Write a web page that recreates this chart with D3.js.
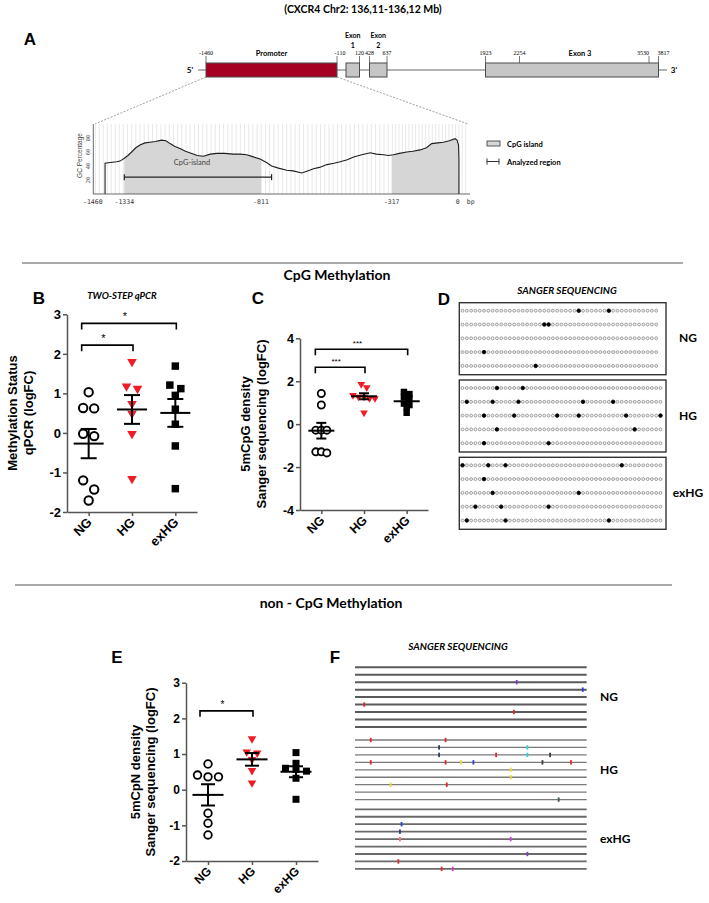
<!DOCTYPE html>
<html><head><meta charset="utf-8">
<script src="https://cdn.jsdelivr.net/npm/d3@7"></script>
<style>body{margin:0;background:#fff}svg{display:block}</style>
</head><body><svg id="c" width="709" height="903"></svg>
<script>
// ================= DATA =================
const groups = ["NG", "HG", "exHG"];

// Panel A: gene map
const geneTitle = "(CXCR4 Chr2: 136,11-136,12 Mb)";
const genePositions = [-1460, -110, 120, 428, 637, 1923, 2254, 3530, 3817];
const geneFeatures = [
  {name: "Promoter", start: -1460, end: -110, type: "promoter"},
  {name: "Exon 1", start: -20, end: 120, type: "exon"},
  {name: "Exon 2", start: 428, end: 637, type: "exon"},
  {name: "Exon 3", start: 1923, end: 3817, type: "exon"}
];
// Panel A: GC percentage profile of the promoter
const gcBp  = [-1411,-1411,-1390,-1365,-1351,-1334,-1320,-1306,-1290,-1274,-1255,-1236,-1215,-1191,-1175,-1159,-1140,-1121,-1100,-1076,-1055,-1031,-1005,-980,-950,-917,-890,-866,-840,-815,-790,-771,-745,-714,-690,-657,-635,-613,-590,-562,-535,-512,-485,-461,-430,-398,-375,-348,-330,-309,-280,-245,-215,-181,-150,-125,-95,-69,-40,-13,-3,4,6,6];
const gcPct = [0,44,45,46,47,51,55,60,66,70,73,74,75,77,76,72,68,65,61,58,55,54,57,58,58,57,57,56,53,50,45,40,37,34,33,30,33,36,38,42,44,46,49,53,56,59,57,56,55,56,58,60,61,63,66,72,73,74,76,79,77,70,50,0];
const gcTicks = [-1460, -1334, -811, -317, 0];
const gcYTicks = [20, 40, 60, 80];
const cpgIslands = [[-1334, -811], [-317, 6]];
const analyzedRegion = [-1334, -771];

// Panel B: two-step qPCR (logFC)
const bNG   = [1.03, 0.63, 0.62, -0.02, -0.08, -1.20, -1.43, -1.71];
const bHG   = [1.80, 1.18, 1.12, 0.74, 0.49, -0.02, -1.16];
const bExHG = [1.69, 1.21, 1.12, 0.95, 0.60, 0.22, -0.33, -1.41];
const bTicks = [-2, -1, 0, 1, 2, 3];

// Panel C: 5mCpG density (logFC)
const cNG   = [1.43, 0.89, -0.28, -0.28, -0.28, -1.29, -1.34, -1.29];
const cHG   = [1.86, 1.71, 1.35, 1.27, 1.27, 1.20, 1.20, 0.53];
const cExHG = [1.50, 1.40, 1.27, 1.20, 0.96, 0.89, 0.78, 0.53];
const cTicks = [-4, -2, 0, 2, 4];

// Panel E: 5mCpN density (logFC)
const eNG   = [0.72, 0.41, 0.36, 0.36, -0.66, -0.94, -1.27];
const eHG   = [1.43, 1.06, 1.03, 0.85, 0.54, 0.19];
const eExHG = [1.04, 0.74, 0.60, 0.57, 0.52, 0.32, -0.27];
const eTicks = [-2, -1, 0, 1, 2, 3];

// Panel D: CpG sites per clone (indices of methylated CpGs)
const dNG   = [[27, 34], [19, 20], [], [5], [17]];
const dHG   = [[8, 14], [1, 7, 13, 28, 35], [5, 12, 22, 27, 38, 46], [8, 40], [5, 20]];
const dExHG = [[0, 6, 10, 37], [5], [7, 27], [3, 9, 20], [1, 10, 34]];
const dSites = {NG: 46, HG: 47, exHG: 47};

// Panel F: non-CpG methylated sites per clone (row, relative position 0-100, base colour)
const fNG   = [{row: 2, pos: 69.8, c: "purple"}, {row: 3, pos: 98.3, c: "blue"}, {row: 5, pos: 4.0, c: "red"}, {row: 6, pos: 68.6, c: "red"}];
const fHG   = [{row: 0, pos: 6.8, c: "red"}, {row: 0, pos: 39.1, c: "red"},
               {row: 1, pos: 36.3, c: "navy"}, {row: 1, pos: 74.4, c: "cyan"},
               {row: 2, pos: 36.3, c: "navy"}, {row: 2, pos: 60.9, c: "red"}, {row: 2, pos: 74.4, c: "cyan"}, {row: 2, pos: 84.2, c: "dark"},
               {row: 3, pos: 6.8, c: "red"}, {row: 3, pos: 39.1, c: "red"}, {row: 3, pos: 45.8, c: "yellow"}, {row: 3, pos: 51.1, c: "blue"}, {row: 3, pos: 80.9, c: "dark"}, {row: 3, pos: 93.2, c: "red"},
               {row: 4, pos: 67.2, c: "yellow"}, {row: 5, pos: 67.2, c: "yellow"},
               {row: 6, pos: 15.4, c: "yellow"}, {row: 6, pos: 39.6, c: "red"},
               {row: 8, pos: 87.9, c: "green"}];
const fExHG = [{row: 2, pos: 20.1, c: "blue"}, {row: 3, pos: 19.4, c: "navy"}, {row: 4, pos: 19.4, c: "salmon"}, {row: 4, pos: 67.2, c: "magenta"},
               {row: 6, pos: 74.4, c: "purple"}, {row: 7, pos: 18.7, c: "red"}, {row: 8, pos: 37.4, c: "red"}, {row: 8, pos: 42.2, c: "magenta"}];
const fClones = 9;

// ================= STYLE =================
const SANS = "'Liberation Sans', Arial, sans-serif";
const CAL = "Lato, 'Open Sans', sans-serif";
const MONO = "'DejaVu Sans Mono', 'Liberation Mono', monospace";
const RED = "#ee1c25";
const baseColors = {red: "#e2252b", blue: "#2b3fd6", purple: "#7b3fc4", navy: "#283c6e", cyan: "#2cd3d3",
  yellow: "#e6dc3c", dark: "#3c3c3c", magenta: "#d33fd3", salmon: "#f07a6a", green: "#3c5a46"};

const svg = d3.select("#c");
svg.append("rect").attr("width", 709).attr("height", 903).attr("fill", "#fff");

function txt(g, x, y, s, o = {}) {
  return g.append("text").attr("x", x).attr("y", y).text(s)
    .attr("text-anchor", o.anchor || "start")
    .style("font-family", o.family || SANS).style("font-size", (o.size || 12) + "px")
    .style("font-weight", o.weight || "normal").style("font-style", o.style || "normal")
    .attr("fill", o.fill || "#000");
}

// ================= PANEL A =================
txt(svg, 363, 13, geneTitle, {anchor: "middle", family: CAL, size: 10.5, weight: "bold"});
txt(svg, 30, 45, "A", {anchor: "middle", size: 17, weight: "bold"});

const gx = d3.scaleLinear()
  .domain([-1560, -1460, -110, -20, 120, 428, 637, 1923, 2254, 3530, 3817, 3917])
  .range([198, 206, 337, 346, 359.5, 369.5, 387, 485.5, 519.5, 649, 658.5, 667]);
const geneY = 70, boxH = 14;
const gA = svg.append("g");
gA.append("line").attr("x1", gx(-1560)).attr("x2", gx(3917)).attr("y1", geneY).attr("y2", geneY)
  .attr("stroke", "#9a9a9a").attr("stroke-width", 1.6);
txt(gA, gx(-1560) - 8, geneY + 3, "5'", {family: CAL, size: 8, weight: "bold", anchor: "middle"});
txt(gA, gx(3917) + 7, geneY + 3, "3'", {family: CAL, size: 8, weight: "bold", anchor: "middle"});
gA.selectAll("line.tk").data(genePositions).join("line").attr("class", "tk")
  .attr("x1", d => gx(d)).attr("x2", d => gx(d)).attr("y1", geneY - boxH / 2 - 7).attr("y2", geneY - boxH / 2)
  .attr("stroke", "#555").attr("stroke-width", 0.8);
const numShift = {"-110": 3, "3530": -6, "3817": 5};
gA.selectAll("text.num").data(genePositions).join("text").attr("class", "num")
  .attr("x", d => gx(d) + (numShift[d] || 0)).attr("y", geneY - boxH / 2 - 8).attr("text-anchor", "middle")
  .style("font-family", "'Liberation Serif', serif").style("font-size", "6px").text(d => d);
gA.selectAll("rect.feat").data(geneFeatures).join("rect").attr("class", "feat")
  .attr("x", d => gx(d.start)).attr("width", d => gx(d.end) - gx(d.start))
  .attr("y", geneY - boxH / 2).attr("height", boxH)
  .attr("fill", d => d.type === "promoter" ? "#a50022" : "#c6c6c6").attr("stroke", "#4a4a4a").attr("stroke-width", 1);
geneFeatures.forEach(f => {
  const cx = (gx(f.start) + gx(f.end)) / 2;
  if (f.name === "Promoter" || f.name === "Exon 3") {
    txt(gA, cx + (f.name === "Exon 3" ? 8 : 0), geneY - boxH / 2 - 7, f.name, {anchor: "middle", family: CAL, size: 7.5, weight: "bold"});
  } else {
    const [a, b] = f.name.split(" ");
    txt(gA, cx, 38, a, {anchor: "middle", family: CAL, size: 7, weight: "bold"});
    txt(gA, cx, 48, b, {anchor: "middle", family: CAL, size: 7, weight: "bold"});
  }
});

// GC profile
const gcx = d3.scaleLinear().domain(gcTicks).range([92.8, 124.3, 261, 391.7, 457.7]);
const gcy = d3.scaleLinear().domain([0, 100]).range([194, 124]);
const gG = svg.append("g");
gG.append("line").attr("x1", gx(-1460)).attr("y1", geneY + boxH / 2).attr("x2", 95).attr("y2", gcy(100))
  .attr("stroke", "#888").attr("stroke-dasharray", "2,1.5").attr("stroke-width", 0.8);
gG.append("line").attr("x1", gx(-110)).attr("y1", geneY + boxH / 2).attr("x2", 468).attr("y2", gcy(100))
  .attr("stroke", "#888").attr("stroke-dasharray", "2,1.5").attr("stroke-width", 0.8);
const gridBp = d3.range(-1450, 50, 16);
gG.selectAll("line.grid").data(gridBp).join("line").attr("class", "grid")
  .attr("x1", d => gcx(d)).attr("x2", d => gcx(d)).attr("y1", gcy(100)).attr("y2", gcy(0))
  .attr("stroke", "#dedede").attr("stroke-width", 0.7);
const gcPts = gcBp.map((b, i) => [b, gcPct[i]]);
const defs = svg.append("defs");
cpgIslands.forEach((r, i) => {
  defs.append("clipPath").attr("id", "isl" + i).append("rect")
    .attr("x", gcx(r[0])).attr("width", gcx(r[1]) - gcx(r[0])).attr("y", gcy(100)).attr("height", gcy(0) - gcy(100));
  gG.append("path").datum(gcPts).attr("clip-path", `url(#isl${i})`)
    .attr("d", d3.area().x(d => gcx(d[0])).y0(gcy(0)).y1(d => gcy(d[1])))
    .attr("fill", "#d6d6d6");
});
gG.append("path").datum(gcPts).attr("d", d3.line().x(d => gcx(d[0])).y(d => gcy(d[1])))
  .attr("fill", "none").attr("stroke", "#1e1e1e").attr("stroke-width", 1.1);
gG.append("line").attr("x1", 93.3).attr("x2", 93.3).attr("y1", gcy(100)).attr("y2", gcy(0)).attr("stroke", "#444").attr("stroke-width", 0.8);
gG.append("line").attr("x1", 93.3).attr("x2", 470).attr("y1", gcy(0)).attr("y2", gcy(0)).attr("stroke", "#444").attr("stroke-width", 0.8);
gG.selectAll("text.gyt").data(gcYTicks).join("text").attr("class", "gyt")
  .attr("transform", d => `translate(90,${gcy(d)}) rotate(-90)`).attr("text-anchor", "middle")
  .style("font-family", MONO).style("font-size", "5.5px").attr("fill", "#444").text(d => d);
gG.append("text").attr("transform", `translate(82,${gcy(55)}) rotate(-90)`).attr("text-anchor", "middle")
  .style("font-family", SANS).style("font-size", "6.5px").attr("fill", "#444").text("GC Percentage");
gG.selectAll("text.gxt").data(gcTicks).join("text").attr("class", "gxt")
  .attr("x", d => gcx(d)).attr("y", gcy(0) + 10).attr("text-anchor", "middle")
  .style("font-family", MONO).style("font-size", "6.5px").attr("fill", "#333").text(d => d);
txt(gG, gcx(0) + 13, gcy(0) + 10, "bp", {family: MONO, size: 6.5, fill: "#333", anchor: "middle"});
const arY = gcy(24);
gG.append("line").attr("x1", gcx(analyzedRegion[0])).attr("x2", gcx(analyzedRegion[1])).attr("y1", arY).attr("y2", arY).attr("stroke", "#222").attr("stroke-width", 1.2);
analyzedRegion.forEach(b => gG.append("line").attr("x1", gcx(b)).attr("x2", gcx(b)).attr("y1", arY - 3).attr("y2", arY + 3).attr("stroke", "#222").attr("stroke-width", 1.2));
txt(gG, (gcx(analyzedRegion[0]) + gcx(analyzedRegion[1])) / 2 - 6, arY - 12, "CpG-island", {anchor: "middle", family: CAL, size: 7.5, fill: "#444"});
gG.append("rect").attr("x", 487).attr("y", 141).attr("width", 13).attr("height", 5).attr("fill", "#d6d6d6").attr("stroke", "#333").attr("stroke-width", 0.8);
txt(gG, 507, 146.5, "CpG island", {family: CAL, size: 7.5, weight: "bold"});
gG.append("line").attr("x1", 487).attr("x2", 499).attr("y1", 161.5).attr("y2", 161.5).attr("stroke", "#333");
[487, 499].forEach(x => gG.append("line").attr("x1", x).attr("x2", x).attr("y1", 158.5).attr("y2", 164.5).attr("stroke", "#333"));
txt(gG, 507, 164.5, "Analyzed region", {family: CAL, size: 7.5, weight: "bold"});

// ================= SECTION HEADERS =================
svg.append("line").attr("x1", 22).attr("x2", 683).attr("y1", 263).attr("y2", 263).attr("stroke", "#555").attr("stroke-width", 1);
txt(svg, 337, 280, "CpG Methylation", {anchor: "middle", family: CAL, size: 14, weight: "bold"});
svg.append("line").attr("x1", 15).attr("x2", 672).attr("y1", 585).attr("y2", 585).attr("stroke", "#555").attr("stroke-width", 1);
txt(svg, 331, 608, "non - CpG Methylation", {anchor: "middle", family: CAL, size: 14, weight: "bold"});

// ================= DOT PLOTS =================
function swarm(vals, y, cx, thr, step) {
  const order = vals.map((v, i) => ({v, i, py: y(v)})).sort((a, b) => a.py - b.py);
  const bins = [];
  order.forEach(p => {
    const last = bins[bins.length - 1];
    if (last && p.py - last[0].py <= thr) last.push(p); else bins.push([p]);
  });
  const out = [];
  bins.forEach(b => b.forEach((p, j) => out.push({v: p.v, x: cx + (j - (b.length - 1) / 2) * step, y: p.py})));
  return out;
}

function dotPanel(o) {
  const g = svg.append("g");
  const y = d3.scaleLinear().domain(d3.extent(o.ticks)).range([o.bottom, o.top]);
  const x = d3.scalePoint().domain(groups).range([o.left, o.right]).padding(0.5);
  const ya = d3.axisLeft(y).tickValues(o.ticks).tickSize(4).tickSizeOuter(0).tickPadding(2).tickFormat(d => String(d));
  const yg = g.append("g").attr("transform", `translate(${o.left},0)`).call(ya);
  const xa = d3.axisBottom(x).tickSize(4).tickSizeOuter(0).tickFormat("");
  const xg = g.append("g").attr("transform", `translate(0,${o.bottom})`).call(xa);
  [yg, xg].forEach(a => {
    a.select(".domain").attr("stroke", "#555").attr("stroke-width", 1.5);
    a.selectAll(".tick line").attr("stroke", "#555").attr("stroke-width", 1.5);
  });
  yg.selectAll(".tick text").style("font-family", SANS).style("font-size", o.fs + "px").style("font-weight", "bold").attr("fill", "#000");
  groups.forEach(gr => {
    g.append("text").attr("transform", `translate(${x(gr) + 4},${o.bottom + 11}) rotate(-45)`)
      .attr("text-anchor", "end").style("font-family", SANS).style("font-size", o.fs + "px").style("font-weight", "bold").text(gr);
  });
  o.ylab.forEach((s, i) => {
    g.append("text").attr("transform", `translate(${o.ylabX[i]},${o.ylabY}) rotate(-90)`).attr("text-anchor", "middle")
      .attr("dominant-baseline", "central").style("font-family", SANS).style("font-size", o.lfs + "px").style("font-weight", "bold").text(s);
  });
  const series = [o.ng, o.hg, o.ex];
  const tri = d3.symbol().type(d3.symbolTriangle).size(o.triSize);
  const sq = d3.symbol().type(d3.symbolSquare).size(o.sqSize);
  series.forEach((vals, gi) => {
    const pts = swarm(vals, y, x(groups[gi]), o.thr, o.step);
    if (gi === 0) {
      g.selectAll(null).data(pts).join("circle").attr("cx", d => d.x).attr("cy", d => d.y).attr("r", o.r)
        .attr("fill", "#fff").attr("stroke", "#000").attr("stroke-width", o.sw);
    } else if (gi === 1) {
      g.selectAll(null).data(pts).join("path").attr("d", tri).attr("transform", d => `translate(${d.x},${d.y}) rotate(180)`).attr("fill", RED);
    } else {
      g.selectAll(null).data(pts).join("path").attr("d", sq).attr("transform", d => `translate(${d.x},${d.y})`).attr("fill", "#000");
    }
  });
  series.forEach((vals, gi) => {
    const m = d3.mean(vals), sem = d3.deviation(vals) / Math.sqrt(vals.length), cx = x(groups[gi]);
    const eb = g.append("g").attr("stroke", "#000").attr("stroke-width", 2);
    eb.append("line").attr("x1", cx - o.meanW / 2).attr("x2", cx + o.meanW / 2).attr("y1", y(m)).attr("y2", y(m));
    eb.append("line").attr("x1", cx).attr("x2", cx).attr("y1", y(m + sem)).attr("y2", y(m - sem));
    [m + sem, m - sem].forEach(v => eb.append("line").attr("x1", cx - o.capW / 2).attr("x2", cx + o.capW / 2).attr("y1", y(v)).attr("y2", y(v)));
  });
  o.brackets.forEach(b => {
    const x1 = x(b.from) - o.brOff, x2 = x(b.to) + 1, by = y(b.at);
    g.append("path").attr("d", `M${x1},${by + 6}V${by}H${x2}V${by + 6}`).attr("fill", "none").attr("stroke", "#000").attr("stroke-width", 1.6);
    txt(g, (x1 + x2) / 2 - 4, by - 3, b.label, {anchor: "middle", size: o.starFs});
  });
}

dotPanel({left: 67, right: 197, top: 314.3, bottom: 512, ticks: bTicks, fs: 13, lfs: 13,
  ylab: ["Methylation Status", "qPCR (logFC)"], ylabX: [12, 28], ylabY: 413,
  ng: bNG, hg: bHG, ex: bExHG, r: 4.2, sw: 2, triSize: 40, sqSize: 56, thr: 9.5, step: 11,
  meanW: 30, capW: 16, brOff: 7, starFs: 11,
  brackets: [{from: "NG", to: "exHG", at: 2.77, label: "*"}, {from: "NG", to: "HG", at: 2.22, label: "*"}]});
txt(svg, 39, 304, "B", {anchor: "middle", size: 17, weight: "bold"});
txt(svg, 122, 299, "TWO-STEP qPCR", {anchor: "middle", family: CAL, size: 9.5, weight: "bold", style: "italic"});

dotPanel({left: 300, right: 428, top: 338.3, bottom: 510, ticks: cTicks, fs: 12.5, lfs: 13,
  ylab: ["5mCpG density", "Sanger sequencing (logFC)"], ylabX: [245, 261], ylabY: 424,
  ng: cNG, hg: cHG, ex: cExHG, r: 3.6, sw: 1.8, triSize: 26, sqSize: 42, thr: 3.5, step: 5.5,
  meanW: 26, capW: 10, brOff: 6, starFs: 8,
  brackets: [{from: "NG", to: "exHG", at: 3.49, label: "***"}, {from: "NG", to: "HG", at: 2.65, label: "***"}]});
txt(svg, 258, 304, "C", {anchor: "middle", size: 17, weight: "bold"});

dotPanel({left: 186, right: 318, top: 682.7, bottom: 861, ticks: eTicks, fs: 12, lfs: 13,
  ylab: ["5mCpN density", "Sanger sequencing (logFC)"], ylabX: [135, 150], ylabY: 772,
  ng: eNG, hg: eHG, ex: eExHG, r: 3.8, sw: 1.8, triSize: 32, sqSize: 49, thr: 4.5, step: 10.5,
  meanW: 31, capW: 14, brOff: 8, starFs: 10,
  brackets: [{from: "NG", to: "HG", at: 2.21, label: "*"}]});
txt(svg, 117, 663, "E", {anchor: "middle", size: 17, weight: "bold"});

// ================= PANEL D =================
txt(svg, 444, 305, "D", {anchor: "middle", size: 17, weight: "bold"});
txt(svg, 567, 294, "SANGER SEQUENCING", {anchor: "middle", family: CAL, size: 10, weight: "bold", style: "italic"});
const dData = {NG: dNG, HG: dHG, exHG: dExHG};
const dTop = d3.scalePoint().domain(groups).range([302.7, 457.3]);
const dCol = d3.scaleLinear().domain([0, 46]).range([462.5, 660.5]);
const gD = svg.append("g");
groups.forEach(gr => {
  const t = dTop(gr);
  gD.append("rect").attr("x", 459.3).attr("y", t).attr("width", 206.7).attr("height", 72)
    .attr("fill", "none").attr("stroke", "#333").attr("stroke-width", 1.4);
  dData[gr].forEach((filled, ri) => {
    const ry = t + 8 + ri * 13.8;
    const cells = d3.range(dSites[gr]).map(k => ({k, m: filled.includes(k)}));
    gD.selectAll(null).data(cells).join("circle").attr("cx", d => dCol(d.k)).attr("cy", ry)
      .attr("r", d => d.m ? 1.8 : 1.45).attr("fill", d => d.m ? "#000" : "#f2f2f2")
      .attr("stroke", d => d.m ? "#000" : "#919191").attr("stroke-width", 0.85);
  });
  txt(gD, 688, t + 39.5, gr, {anchor: "middle", family: CAL, size: 12, weight: "bold"});
});

// ================= PANEL F =================
txt(svg, 335, 663, "F", {anchor: "middle", size: 17, weight: "bold"});
txt(svg, 458, 650, "SANGER SEQUENCING", {anchor: "middle", family: CAL, size: 10, weight: "bold", style: "italic"});
const fData = {NG: fNG, HG: fHG, exHG: fExHG};
const fTop = {NG: 667.3, HG: 740, exHG: 809.3};
const fx = d3.scaleLinear().domain([0, 100]).range([355, 586.7]);
const fStyle = {NG: ["#5a5a5a", 2], HG: ["#7a7a7a", 1.3], exHG: ["#6a6a6a", 1.8]};
const gF = svg.append("g");
groups.forEach(gr => {
  const rows = d3.range(fClones);
  const ry = r => fTop[gr] + r * 7.45;
  gF.selectAll(null).data(rows).join("line").attr("x1", fx(0)).attr("x2", fx(100))
    .attr("y1", ry).attr("y2", ry).attr("stroke", fStyle[gr][0]).attr("stroke-width", fStyle[gr][1]);
  gF.selectAll(null).data(fData[gr]).join("rect").attr("x", d => fx(d.pos) - 0.9).attr("y", d => ry(d.row) - 2.2)
    .attr("width", 1.8).attr("height", 4.4).attr("fill", d => baseColors[d.c]);
  txt(gF, 600, ry(4) + 4, gr, {family: CAL, size: 12, weight: "bold"});
});
</script></body></html>
